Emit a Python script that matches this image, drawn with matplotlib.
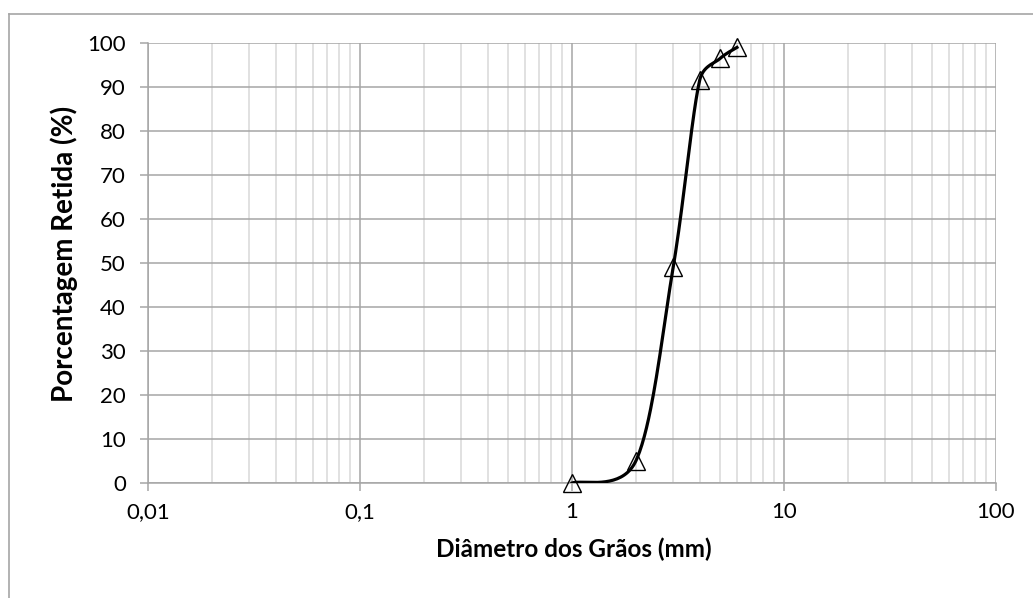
import numpy as np
import matplotlib.pyplot as plt
from matplotlib.ticker import FixedLocator, LogLocator, NullFormatter, FuncFormatter
from matplotlib.lines import Line2D

# granulometry data
diametro = [1, 2, 3, 4, 5, 6]          # mm
retida = [0, 5, 49, 91.5, 96.5, 99]    # %

x_ticks = [0.01, 0.1, 1, 10, 100]
x_labels = ["0,01", "0,1", "1", "10", "100"]
y_ticks = list(range(0, 101, 10))

plt.rcParams['font.family'] = ['Lato', 'DejaVu Sans']


def smooth_curve(ax, xs, ys, n=40):
    # Excel style bezier smoothing, done in screen space with clipped arms
    pts = ax.transData.transform(np.column_stack([xs, ys]))
    ext = np.vstack([pts[0], pts, pts[-1]])
    t = np.linspace(0, 1, n)[:, None]
    out = []
    for i in range(1, len(ext) - 2):
        p0 = ext[i]
        p3 = ext[i + 1]
        half = np.hypot(*(p3 - p0)) / 2
        a1 = (ext[i + 1] - ext[i - 1]) / 6
        a2 = (ext[i + 2] - ext[i]) / 6
        if np.hypot(*a1) > half:
            a1 = a1 * half / np.hypot(*a1)
        if np.hypot(*a2) > half:
            a2 = a2 * half / np.hypot(*a2)
        c1 = p0 + a1
        c2 = p3 - a2
        seg = ((1 - t) ** 3) * p0 + 3 * ((1 - t) ** 2) * t * c1 \
            + 3 * (1 - t) * t ** 2 * c2 + t ** 3 * p3
        out.append(seg)
    seg = ax.transData.inverted().transform(np.vstack(out))
    return seg[:, 0], seg[:, 1]


fig = plt.figure(figsize=(10.33, 5.98), dpi=100)
ax = fig.add_axes([148 / 1033, 1 - 483 / 598, (996 - 148) / 1033, (483 - 43) / 598])

ax.set_xscale('log')
ax.set_xlim(0.01, 100)
ax.set_ylim(0, 100)

sx, sy = smooth_curve(ax, diametro, retida)
ax.plot(sx, sy, color='black', lw=2.3, zorder=3)
ax.plot(diametro, retida, linestyle='none', marker='^', ms=13, mfc='none',
        mec='black', mew=1.0, zorder=4, clip_on=False)

ax.xaxis.set_major_locator(FixedLocator(x_ticks))
ax.xaxis.set_major_formatter(FuncFormatter(lambda v, p: x_labels[x_ticks.index(v)] if v in x_ticks else ""))
ax.xaxis.set_minor_locator(LogLocator(base=10, subs=np.arange(2, 10)))
ax.xaxis.set_minor_formatter(NullFormatter())
ax.set_yticks(y_ticks)

major_c = '#a6a6a6'
minor_c = '#d9d9d9'
ax.grid(True, which='major', axis='both', color=major_c, lw=1.1)
ax.grid(True, which='minor', axis='x', color=minor_c, lw=1.1)
ax.set_axisbelow(True)

for side in ['top', 'right']:
    ax.spines[side].set_visible(False)
for side in ['left', 'bottom']:
    ax.spines[side].set_color(major_c)
    ax.spines[side].set_linewidth(1.1)

ax.tick_params(axis='both', which='major', length=6, width=1.1, color=major_c,
               labelsize=16, pad=10)
ax.tick_params(axis='x', which='minor', length=0)
ax.tick_params(axis='x', which='major', pad=8)

ax.set_xlabel('Diâmetro dos Grãos (mm)', fontsize=17.5, fontweight='bold')
ax.set_ylabel('Porcentagem Retida (%)', fontsize=20, fontweight='bold')
ax.xaxis.set_label_coords(0.502, -0.125)
ax.yaxis.set_label_coords(-0.083, 0.52)

# outer chart border (only top and left are visible in the image)
fig.add_artist(Line2D([9 / 1033, 9 / 1033], [0, 1 - 14 / 598], transform=fig.transFigure,
                      color='#a6a6a6', lw=1.2))
fig.add_artist(Line2D([9 / 1033, 1], [1 - 14 / 598, 1 - 14 / 598], transform=fig.transFigure,
                      color='#a6a6a6', lw=1.2))

fig.savefig('out.png', dpi=100)
